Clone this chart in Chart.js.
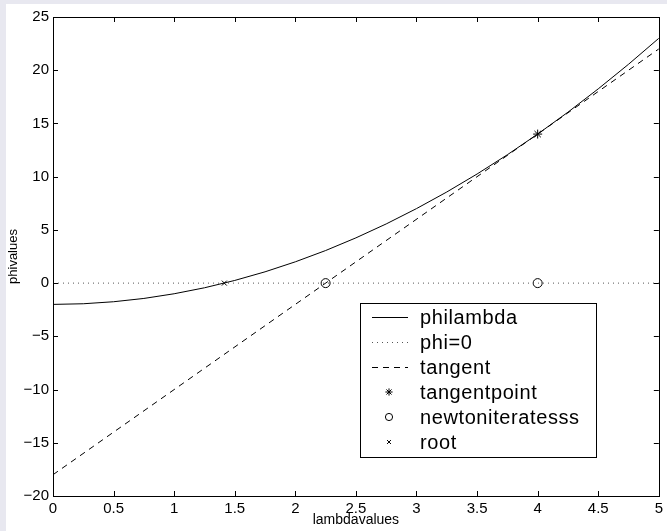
<!DOCTYPE html>
<html>
<head>
<meta charset="utf-8">
<script src="https://cdn.jsdelivr.net/npm/chart.js@4.4.1/dist/chart.umd.min.js"></script>
<style>
  html, body { margin: 0; padding: 0; background: #e8e8f0; }
  #fig { position: absolute; left: 6px; top: 4px; width: 661px; height: 527px; background: #fff; }
  canvas { display: block; }
</style>
</head>
<body>
<div id="fig"><canvas id="c" width="661" height="527"></canvas></div>
<script>
// values
const lambdaValues = [0, 0.25, 0.5, 0.75, 1, 1.25, 1.5, 1.75, 2, 2.25, 2.5, 2.75, 3, 3.25, 3.5, 3.75, 4, 4.25, 4.5, 4.75, 5];
const phiValues = [-2, -1.94, -1.75, -1.44, -1, -0.44, 0.25, 1.06, 2, 3.06, 4.25, 5.56, 7, 8.56, 10.25, 12.06, 14, 16.06, 18.25, 20.56, 23];
const zeroX = [0, 5];
const zeroY = [0, 0];
const tangentX = [0, 5];
const tangentY = [-18, 22];
const tangentPointX = [4];
const tangentPointY = [14];
const newtonX = [2.25, 4];
const newtonY = [0, 0];
const rootX = [1.414];
const rootY = [0];
const legendLabels = ['philambda', 'phi=0', 'tangent', 'tangentpoint', 'newtoniteratesss', 'root'];
const xTicks = [0, 0.5, 1, 1.5, 2, 2.5, 3, 3.5, 4, 4.5, 5];
const yTicks = [-20, -15, -10, -5, 0, 5, 10, 15, 20, 25];

const FONT = '"Liberation Sans", Arial, Helvetica, sans-serif';
const pts = (xs, ys) => xs.map((x, i) => ({ x: x, y: ys[i] }));

const datasets = [
  { label: legendLabels[0], data: pts(lambdaValues, phiValues), borderColor: '#000', borderWidth: 1, pointRadius: 0, showLine: true },
  { label: legendLabels[1], data: pts(zeroX, zeroY), borderColor: '#555', borderWidth: 1, borderDash: [1, 4], pointRadius: 0, showLine: true },
  { label: legendLabels[2], data: pts(tangentX, tangentY), borderColor: '#000', borderWidth: 1, borderDash: [6, 5], pointRadius: 0, showLine: true },
  { label: legendLabels[3], data: pts(tangentPointX, tangentPointY), borderColor: '#000', backgroundColor: 'rgba(0,0,0,0)', pointStyle: 'star', pointRadius: 4.5, pointBorderWidth: 1, showLine: false },
  { label: legendLabels[4], data: pts(newtonX, newtonY), borderColor: '#000', backgroundColor: 'rgba(0,0,0,0)', pointStyle: 'circle', pointRadius: 4.5, pointBorderWidth: 1, showLine: false },
  { label: legendLabels[5], data: pts(rootX, rootY), borderColor: '#000', backgroundColor: 'rgba(0,0,0,0)', pointStyle: 'crossRot', pointRadius: 3.5, pointBorderWidth: 1, showLine: false }
];

// matlab style box with inward ticks, and the legend inside the axes
const matlabAxes = {
  id: 'matlabAxes',
  afterDatasetsDraw(chart) {
    const ctx = chart.ctx;
    const a = chart.chartArea;
    const xs = chart.scales.x, ys = chart.scales.y;
    const L = 5;
    ctx.save();
    ctx.strokeStyle = '#000';
    ctx.lineWidth = 1;
    ctx.beginPath();
    xs.ticks.forEach(t => {
      const px = Math.round(xs.getPixelForValue(t.value)) + 0.5;
      ctx.moveTo(px, a.bottom); ctx.lineTo(px, a.bottom - L);
      ctx.moveTo(px, a.top); ctx.lineTo(px, a.top + L);
    });
    ys.ticks.forEach(t => {
      const py = Math.round(ys.getPixelForValue(t.value)) + 0.5;
      ctx.moveTo(a.left, py); ctx.lineTo(a.left + L, py);
      ctx.moveTo(a.right, py); ctx.lineTo(a.right - L, py);
    });
    ctx.stroke();
    ctx.strokeRect(Math.round(a.left) + 0.5, Math.round(a.top) + 0.5, Math.round(a.right - a.left), Math.round(a.bottom - a.top));

    // legend
    const bx = 354, by = 299, bw = 236, bh = 154;
    ctx.fillStyle = '#fff';
    ctx.fillRect(bx, by, bw, bh);
    ctx.strokeRect(bx + 0.5, by + 0.5, bw, bh);
    ctx.font = '20px ' + FONT;
    ctx.letterSpacing = '0.6px';
    ctx.textBaseline = 'middle';
    chart.data.datasets.forEach((ds, i) => {
      const cy = by + 14 + 25 * i;
      if (ds.showLine) {
        ctx.save();
        ctx.strokeStyle = ds.borderColor;
        ctx.setLineDash(ds.borderDash || []);
        ctx.beginPath();
        ctx.moveTo(366, Math.round(cy) + 0.5);
        ctx.lineTo(402, Math.round(cy) + 0.5);
        ctx.stroke();
        ctx.restore();
      } else {
        ctx.fillStyle = 'rgba(0,0,0,0)';
        Chart.helpers.drawPoint(ctx, { pointStyle: ds.pointStyle, radius: ds.pointRadius * 0.8, borderWidth: 1 }, 383, cy);
      }
      ctx.fillStyle = '#000';
      ctx.fillText(ds.label, 414, cy + 1);
    });
    ctx.restore();
  }
};

new Chart(document.getElementById('c'), {
  type: 'scatter',
  data: { datasets: datasets },
  options: {
    responsive: false,
    animation: false,
    layout: { padding: { top: 13, right: 7, left: 0, bottom: 0 } },
    plugins: { legend: { display: false }, tooltip: { enabled: false } },
    scales: {
      x: {
        type: 'linear', min: 0, max: 5,
        afterBuildTicks: s => { s.ticks = xTicks.map(v => ({ value: v })); },
        afterFit: s => { s.height = 35; },
        grid: { display: false, drawTicks: false },
        border: { display: false },
        ticks: { color: '#000', font: { family: FONT, size: 15 }, padding: 4, maxRotation: 0, autoSkip: false,
                 callback: v => String(v) },
        title: { display: true, text: 'lambdavalues', color: '#000', font: { family: FONT, size: 14 }, padding: { top: 0, bottom: 2 } }
      },
      y: {
        type: 'linear', min: -20, max: 25,
        afterBuildTicks: s => { s.ticks = yTicks.map(v => ({ value: v })); },
        afterFit: s => { s.width = 47; },
        grid: { display: false, drawTicks: false },
        border: { display: false },
        ticks: { color: '#000', font: { family: FONT, size: 15 }, padding: 4, autoSkip: false,
                 callback: v => String(v).replace('-', '\u2212') },
        title: { display: true, text: 'phivalues', color: '#000', font: { family: FONT, size: 13 }, padding: { top: 0, bottom: 0 } }
      }
    }
  },
  plugins: [matlabAxes]
});
</script>
</body>
</html>
